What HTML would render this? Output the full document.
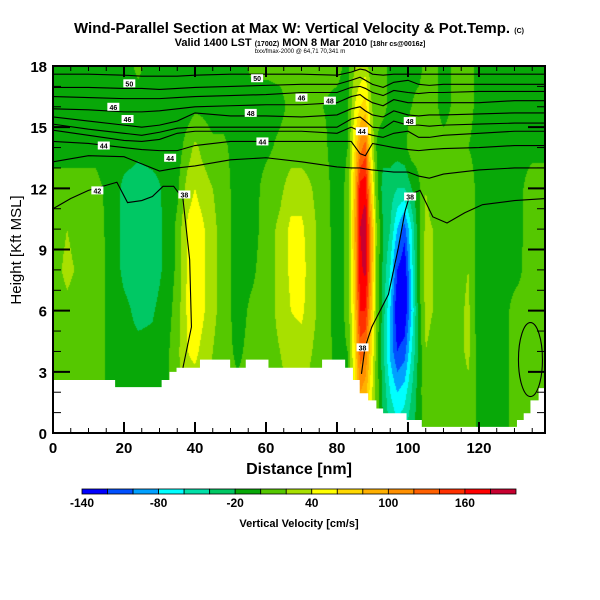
<!DOCTYPE html>
<html><head><meta charset="utf-8">
<style>
html,body{margin:0;padding:0;background:#fff;}
#wrap{position:relative;width:600px;height:600px;overflow:hidden;font-family:"Liberation Sans",sans-serif;}
canvas{position:absolute;left:53px;top:66px;}
svg{position:absolute;left:0;top:0;}
</style></head>
<body>
<div id="wrap">
<canvas id="field" width="492" height="367"></canvas>
<svg id="svg" width="600" height="600"></svg>
</div>
<script>
// ---- data ----
const gridX = [0,4,8,12,16,20,24,28,32,35,38,40,42,45,48,52,56,60,64,67,70,73,76,80,83,85,86.5,88,89.5,91,93,95,97,99,101,103,105,107,110,114,117,120,123,127,131,135,138];
const gridH = [0,2,4,6,8,10,12,14,16,18];
const wValues = [
[10,10,10,10,12,10,5,-5,-10,-10],
[10,10,10,15,25,20,5,-5,-10,-10],
[10,10,10,10,15,10,5,-5,-10,-10],
[10,10,10,10,10,8,5,-5,-10,-10],
[-5,-5,-5,-5,-5,-5,-5,-10,-10,-5],
[-10,-10,-15,-15,-25,-25,-25,-10,-10,-10],
[-10,-10,-15,-25,-30,-30,-30,-15,-10,5],
[-10,-10,-15,-22,-30,-30,-28,-10,-10,-10],
[-5,-5,-5,-10,-15,-15,-15,-10,-10,-10],
[15,15,15,10,5,5,-5,-10,-10,-10],
[30,30,40,45,45,45,30,10,-10,-10],
[30,30,45,55,60,55,40,25,-5,-10],
[25,25,35,45,45,45,30,15,-5,-10],
[15,15,20,25,25,25,20,5,-10,-10],
[10,10,10,12,12,12,10,5,-10,-10],
[5,5,-5,-10,-10,-10,-10,-10,-10,-10],
[10,10,8,5,-5,-10,-10,-10,-10,5],
[12,12,12,12,12,10,8,-5,-10,5],
[15,15,20,25,25,25,15,5,-5,5],
[20,20,30,40,45,45,30,10,5,5],
[20,20,30,45,50,45,30,10,5,5],
[15,15,20,25,25,25,20,10,5,5],
[10,10,10,12,12,12,10,5,0,5],
[-5,-5,-5,-10,-10,-10,-10,-10,-5,5],
[0,0,0,5,5,5,5,0,-5,-5],
[60,50,60,70,80,90,80,60,40,20],
[90,100,130,160,175,180,170,110,60,25],
[80,90,120,160,185,190,175,130,70,30],
[40,50,70,90,110,110,80,50,25,10],
[10,15,15,20,20,25,10,0,5,5],
[-20,-25,-35,-30,-25,-20,-30,-10,5,5],
[-40,-60,-85,-80,-60,-40,-30,-10,-5,-5],
[-50,-80,-120,-140,-120,-80,-40,-10,-5,-5],
[-40,-70,-110,-140,-140,-110,-40,-5,-5,-5],
[-25,-40,-60,-80,-70,-60,-20,10,0,-5],
[-10,-10,-15,-10,-5,-5,-5,10,5,-5],
[10,15,20,25,30,25,20,10,5,5],
[10,10,15,20,20,20,10,5,5,5],
[10,10,10,10,12,12,10,5,-5,-5],
[10,10,12,12,12,12,10,5,5,5],
[10,15,25,25,20,15,8,0,5,5],
[-5,-5,-10,-15,-10,-10,-5,-5,-5,-5],
[-5,-5,-5,-10,-10,-5,-5,-5,-5,-5],
[-5,-5,-5,-5,-5,-5,-5,-5,-5,-5],
[10,10,10,8,-5,-5,-5,-5,-5,-5],
[10,10,10,12,12,10,8,-5,-10,-10],
[10,10,10,12,12,12,8,-5,-10,-10]
];
const levelColors = ["#0000ff","#0050ff","#00a0ff","#00ffff","#00e0a8","#00c864","#08a808","#55c800","#a8e000","#ffff00","#ffd800","#ffb000","#ff9000","#ff6000","#ff3000","#ff0000","#c80030"];
const cbTicks = [-140,-80,-20,40,100,160];
const xTicks = [0,20,40,60,80,100,120];
const yTicks = [0,3,6,9,12,15,18];
const terrX = [0,17.5,30.6,32.8,34.8,41.4,49.9,54.3,60.7,75.8,82.3,84.5,86.4,88.8,91.1,93,99.6,103.9,130.7,132.6,134.5,136.8,138.6];
const terrH = [2.6,2.25,2.6,3.0,3.2,3.6,3.2,3.6,3.2,3.6,3.2,2.6,1.95,1.6,1.2,0.97,0.64,0.3,0.64,0.97,1.6,2.2];
const contourX = [0,10,20,25,30,35,40,50,60,70,80,84,86.5,88,90,93,96,100,103,106,110,120,130,138.6];
const contourLines = [
[17.6,17.6,17.55,17.5,17.5,17.5,17.55,17.6,17.6,17.6,17.55,17.7,17.85,17.8,17.6,17.55,17.6,17.6,17.6,17.6,17.6,17.6,17.6,17.6],
[16.95,16.95,16.9,16.9,16.85,16.9,16.95,17.0,17.05,17.1,17.1,17.3,17.45,17.3,17.1,16.95,17.2,17.3,17.1,17.05,17.1,17.1,17.1,17.1],
[16.5,16.45,16.4,16.4,16.4,16.45,16.5,16.55,16.6,16.7,16.7,16.95,17.0,16.9,16.7,16.55,16.8,16.7,16.65,16.7,16.7,16.75,16.75,16.75],
[15.9,15.85,15.75,15.75,15.8,15.9,16.0,16.05,16.1,16.1,16.2,16.5,16.6,16.4,16.2,16.05,16.35,16.2,16.2,16.2,16.2,16.2,16.3,16.3],
[15.5,15.3,15.1,15.0,15.1,15.3,15.7,15.55,15.55,15.5,15.6,15.9,16.0,15.8,15.6,15.5,15.8,15.6,15.55,15.6,15.6,15.65,15.7,15.7],
[15.15,14.9,14.7,14.6,14.75,14.95,15.0,15.0,15.0,15.0,15.0,15.4,15.5,15.3,15.0,14.95,15.3,15.1,15.1,15.05,15.1,15.15,15.2,15.2],
[14.85,14.6,14.35,14.3,14.4,14.7,14.8,14.8,14.8,14.8,14.7,15.0,14.8,14.7,14.6,14.5,14.7,14.8,14.5,14.5,14.6,14.7,14.8,14.8],
[14.3,14.2,14.0,13.9,13.85,13.85,14.1,14.3,14.3,14.3,14.3,14.3,13.7,13.6,14.2,14.1,14.0,13.9,13.85,13.9,13.95,14.0,14.1,14.1],
[13.3,13.6,13.55,13.2,12.85,13.0,13.1,13.4,13.5,13.3,13.05,13.0,13.0,12.95,12.9,12.85,12.8,12.8,12.6,12.5,12.7,12.9,13.0,13.0]
];
const contourLeft = [[0,11.0],[5,11.5],[10,11.9],[18,12.3],[21,11.3],[25,11.4],[28,11.6],[31,12.1],[34,12.1],[36.6,11.5],[38.5,8.5],[39,5.2],[36.6,3.2]];
const contourRight = [[86.9,2.9],[87.9,4.2],[89.8,5.2],[94.5,6.8],[97.3,9.1],[99.2,10.9],[100.6,11.7],[103.4,11.9],[107,10.6],[111,10.3],[116,10.8],[121,11.2],[130,11.4],[138.6,11.5]];
const contourLabels = [["50",21.5,17.15],["50",57.5,17.4],["46",17,16.0],["46",70,16.45],["46",21,15.4],["48",55.7,15.7],["48",78,16.3],["48",100.5,15.3],["44",14.3,14.1],["44",33,13.5],["44",59,14.3],["44",87,14.8],["42",12.5,11.9],["38",37,11.7],["38",100.6,11.6],["38",87.2,4.2]];

// ---- scales ----
const PX0=53, PX1=545, PY0=66, PY1=433, XMAX=138.6, HMAX=18;
const sx = x => PX0 + x*(PX1-PX0)/XMAX;
const sy = h => PY1 - h*(PY1-PY0)/HMAX;

// ---- field ----
const cv=document.getElementById('field'), ctx=cv.getContext('2d');
const W=cv.width,H=cv.height, img=ctx.createImageData(W,H);
const rgb = levelColors.map(c=>[parseInt(c.substr(1,2),16),parseInt(c.substr(3,2),16),parseInt(c.substr(5,2),16)]);
for(let py=0;py<H;py++){
  const h=(H-0.5-py)/H*HMAX;
  let j=Math.min(gridH.length-2,Math.floor(h/2)); const fh=(h-gridH[j])/(gridH[j+1]-gridH[j]);
  for(let px=0;px<W;px++){
    const x=(px+0.5)/W*XMAX;
    let i=0; while(i<gridX.length-2 && gridX[i+1]<x) i++;
    const fx=Math.max(0,Math.min(1,(x-gridX[i])/(gridX[i+1]-gridX[i])));
    const a=wValues[i][j],b=wValues[i+1][j],c=wValues[i][j+1],d=wValues[i+1][j+1];
    const v=(a*(1-fx)+b*fx)*(1-fh)+(c*(1-fx)+d*fx)*fh;
    let k=Math.floor((v+140)/20); k=Math.max(0,Math.min(16,k));
    const o=(py*W+px)*4; img.data[o]=rgb[k][0];img.data[o+1]=rgb[k][1];img.data[o+2]=rgb[k][2];img.data[o+3]=255;
  }
}
ctx.putImageData(img,0,0);

// ---- svg ----
const NS='http://www.w3.org/2000/svg', svg=document.getElementById('svg');
function mk(tag,attrs,parent){const e=document.createElementNS(NS,tag);for(const k in attrs)e.setAttribute(k,attrs[k]);(parent||svg).appendChild(e);return e;}
function txt(s,x,y,attrs,parent){const e=mk('text',Object.assign({x:x,y:y,'font-family':'Liberation Sans, sans-serif'},attrs),parent);e.textContent=s;return e;}

let d='M'+sx(0)+','+sy(0);
for(let i=0;i<terrH.length;i++){d+=' L'+sx(terrX[i])+','+sy(terrH[i])+' L'+sx(terrX[i+1])+','+sy(terrH[i]);}
d+=' L'+sx(XMAX)+','+sy(0)+' Z';
const terr=mk('path',{d:d,fill:'#fff',stroke:'none'});



const cg=mk('g',{fill:'none',stroke:'#000','stroke-width':1.1});


contourLines.forEach((line,li)=>{
  const p=mk('path',{d:'M'+line.map((h,i)=>sx(contourX[i])+','+sy(h)).join(' L')},cg);
  
  
});
[contourLeft,contourRight].forEach((pts,li)=>{
  const p=mk('path',{d:'M'+pts.map(q=>sx(q[0])+','+sy(q[1])).join(' L')},cg);
  
  
});
const ell=mk('ellipse',{cx:sx(134.5),cy:sy(3.6),rx:12,ry:37},cg);


contourLabels.forEach(l=>{
  const g=mk('g',{});
  
  
  mk('rect',{x:sx(l[1])-6,y:sy(l[2])-4,width:12,height:8,fill:'#fff'},g);
  txt(l[0],sx(l[1]),sy(l[2])+3,{'font-size':7,'font-weight':'bold','text-anchor':'middle'},g);
});

const fr=mk('rect',{x:PX0,y:PY0,width:PX1-PX0,height:PY1-PY0,fill:'none',stroke:'#000','stroke-width':2});


const tg=mk('g',{stroke:'#000'});


for(let x=5;x<XMAX;x+=5){const L=(x%20===0)?11:5,w=(x%20===0)?2:1;mk('line',{x1:sx(x),x2:sx(x),y1:PY1,y2:PY1-L,'stroke-width':w},tg);mk('line',{x1:sx(x),x2:sx(x),y1:PY0,y2:PY0+L,'stroke-width':w},tg);}
for(let h=1;h<HMAX;h++){const L=(h%3===0)?17:8,w=(h%3===0)?2:1;mk('line',{x1:PX0,x2:PX0+L,y1:sy(h),y2:sy(h),'stroke-width':w},tg);mk('line',{x1:PX1,x2:PX1-L,y1:sy(h),y2:sy(h),'stroke-width':w},tg);}
xTicks.forEach(v=>{const t=txt(String(v),sx(v),453,{'font-size':15,'font-weight':'bold','text-anchor':'middle'});});
yTicks.forEach(v=>{const t=txt(String(v),47,sy(v)+6,{'font-size':15,'font-weight':'bold','text-anchor':'end'});});
</script>
<svg width="600" height="600" style="position:absolute;left:0;top:0;pointer-events:none">
<text x="299" y="33" font-family="Liberation Sans, sans-serif" font-size="15" font-weight="bold" text-anchor="middle">Wind-Parallel Section at Max W: Vertical Velocity &amp; Pot.Temp. <tspan font-size="7">(C)</tspan></text>
<text x="300" y="46" font-family="Liberation Sans, sans-serif" font-size="11" font-weight="bold" text-anchor="middle">Valid 1400 LST <tspan font-size="7">(1700Z)</tspan> MON 8 Mar 2010 <tspan font-size="7">[18hr cs@0016z]</tspan></text>
<text x="300" y="53" font-family="Liberation Sans, sans-serif" font-size="6" text-anchor="middle">bxx/fmax-2000 @ 64,71 70,341 m</text>
<text x="299" y="474" font-family="Liberation Sans, sans-serif" font-size="16" font-weight="bold" text-anchor="middle">Distance [nm]</text>
<text transform="translate(21,250) rotate(-90)" font-family="Liberation Sans, sans-serif" font-size="15" text-anchor="middle">Height [Kft MSL]</text>
<text x="299" y="527" font-family="Liberation Sans, sans-serif" font-size="11" font-weight="bold" text-anchor="middle">Vertical Velocity [cm/s]</text>
<g id="cb"></g>
</svg>
<script>
(function(){
  const NS='http://www.w3.org/2000/svg', g=document.getElementById('cb');
  const x0=82,x1=516,n=levelColors.length,w=(x1-x0)/n;
  levelColors.forEach((c,i)=>{const r=document.createElementNS(NS,'rect');
    r.setAttribute('x',x0+i*w);r.setAttribute('y',489);r.setAttribute('width',w);r.setAttribute('height',5);
    r.setAttribute('fill',c);r.setAttribute('stroke','#000');r.setAttribute('stroke-width',0.8);
    
    
    g.appendChild(r);});
  cbTicks.forEach(v=>{const t=document.createElementNS(NS,'text');
    t.setAttribute('x',x0+(v+140)/20*w);t.setAttribute('y',507);t.setAttribute('font-size',12);t.setAttribute('font-weight','bold');
    t.setAttribute('text-anchor','middle');t.setAttribute('font-family','Liberation Sans, sans-serif');t.textContent=String(v);
    
    
    g.appendChild(t);});
})();
</script>
</body></html>
